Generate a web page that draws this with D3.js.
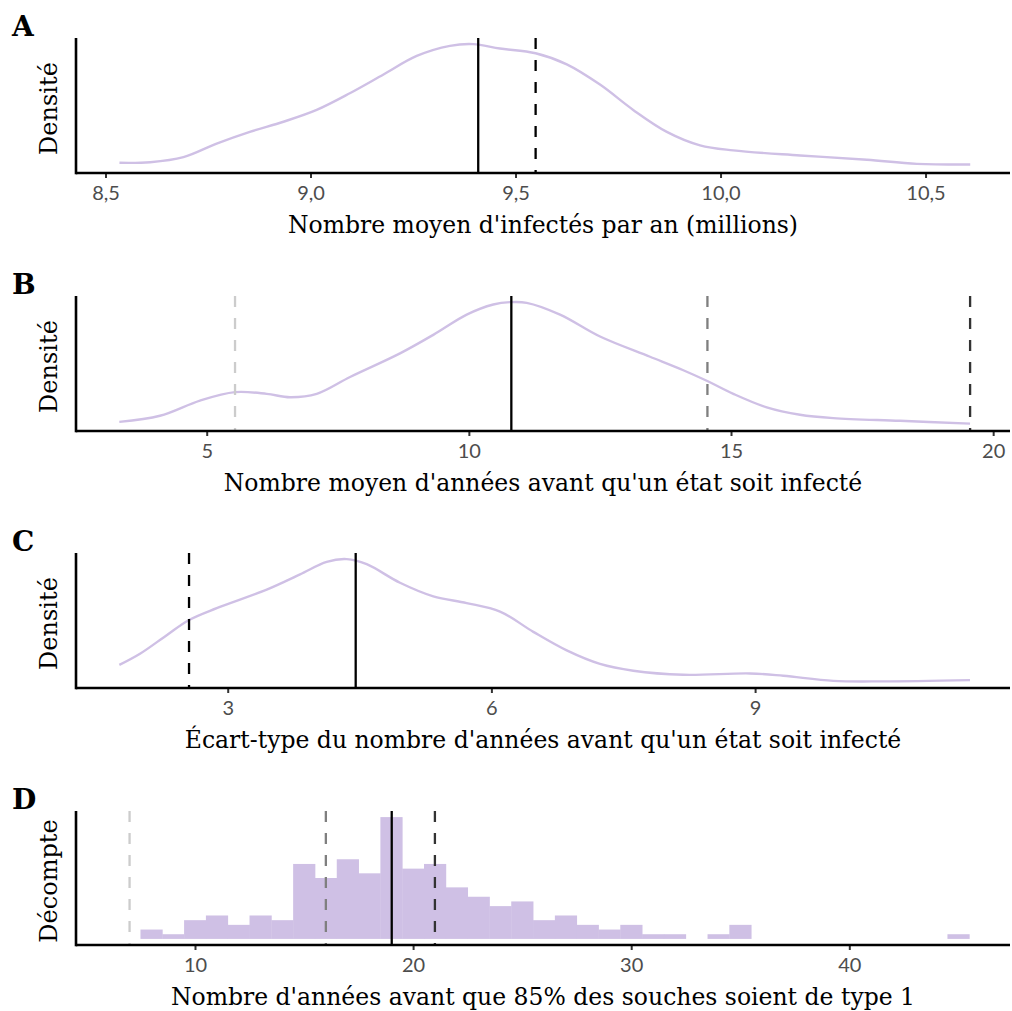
<!DOCTYPE html>
<html><head><meta charset="utf-8">
<script src="https://cdn.jsdelivr.net/npm/d3@7"></script>
<style>body{margin:0;background:#fff}</style>
</head><body>
<svg id="chart" width="1012" height="1011"></svg>
<script>
// ---- Panel A : density of mean number of infected per year (millions)
const aX = [8.534,8.609,8.690,8.771,8.852,8.934,9.015,9.097,9.178,9.259,9.340,9.397,9.462,9.549,9.625,9.706,9.787,9.869,9.950,10.031,10.194,10.357,10.479,10.609];
const aD = [0.040,0.046,0.096,0.230,0.346,0.446,0.563,0.730,0.913,1.096,1.196,1.213,1.170,1.123,1.013,0.813,0.563,0.346,0.213,0.163,0.113,0.070,0.030,0.023];
const aLines = [9.409, 9.549];
const aLineStyles = ["solid","dashed"];
const aLineColors = ["#000000","#000000"];
const aTicks = [8.5, 9.0, 9.5, 10.0, 10.5];

// ---- Panel B
const bX = [3.333,4.109,4.872,5.540,6.144,6.589,7.098,7.734,8.687,9.322,9.959,10.466,10.785,11.103,11.739,12.502,13.455,14.090,14.548,15.044,15.681,16.316,16.951,18.223,19.559];
const bD = [0.0036,0.0108,0.0288,0.0388,0.0368,0.0328,0.0368,0.0568,0.0848,0.1068,0.1308,0.1428,0.1456,0.1448,0.1308,0.1048,0.0808,0.0648,0.0520,0.0368,0.0208,0.0120,0.0080,0.0048,0.0015];
const bLines = [5.54, 10.81, 14.55, 19.56];
const bLineStyles = ["dashed","solid","dashed","dashed"];
const bLineColors = ["#cccccc","#000000","#7f7f7f","#333333"];
const bTicks = [5, 10, 15, 20];

// ---- Panel C
const cX = [1.767,2.002,2.306,2.560,2.875,3.444,3.823,4.126,4.354,4.581,4.960,5.339,5.719,6.098,6.477,6.857,7.235,7.614,8.183,8.942,9.321,9.890,10.459,11.445];
const cD = [0.0334,0.0554,0.092,0.122,0.1454,0.182,0.212,0.2366,0.242,0.232,0.1954,0.1686,0.1554,0.1386,0.0986,0.062,0.0354,0.022,0.014,0.0166,0.012,0.002,0.001,0.0034];
const cLines = [2.56, 4.456];
const cLineStyles = ["dashed","solid"];
const cLineColors = ["#000000","#000000"];
const cTicks = [3, 6, 9];

// ---- Panel D : histogram, bins of width 1 centred on integers
const dBins = [8,9,10,11,12,13,14,15,16,17,18,19,20,21,22,23,24,25,26,27,28,29,30,31,32,33,34,35,36,37,38,39,40,41,42,43,44,45];
const dCounts = [2,1,4,5,3,5,4,16,13,17,14,26,15,16,11,9,7,8,4,5,3,2,3,1,1,0,1,3,0,0,0,0,0,0,0,0,0,1];
const dLines = [7.0, 16.0, 19.02, 21.0];
const dLineStyles = ["dashed","dashed","solid","dashed"];
const dLineColors = ["#cccccc","#7f7f7f","#000000","#333333"];
const dTicks = [10, 20, 30, 40];

const labels = ["A","B","C","D"];
const xTitles = [
  "Nombre moyen d'infectés par an (millions)",
  "Nombre moyen d'années avant qu'un état soit infecté",
  "Écart-type du nombre d'années avant qu'un état soit infecté",
  "Nombre d'années avant que 85% des souches soient de type 1"
];
const yTitles = ["Densité","Densité","Densité","Décompte"];

const PURPLE = "#cfc0e5";
const svg = d3.select("#chart");
const L = 76, R = 1010;
const panels = [
  {top:38,  bottom:173, dom:[8.428,10.706], type:"density", x:aX, d:aD, lines:aLines, styles:aLineStyles, colors:aLineColors, ticks:aTicks, fmt: v => d3.format(".1f")(v).replace(".", ",")},
  {top:296, bottom:431, dom:[2.507,20.321], type:"density", x:bX, d:bD, lines:bLines, styles:bLineStyles, colors:bLineColors, ticks:bTicks, fmt: d3.format("d")},
  {top:553, bottom:688, dom:[1.274,11.900], type:"density", x:cX, d:cD, lines:cLines, styles:cLineStyles, colors:cLineColors, ticks:cTicks, fmt: d3.format("d")},
  {top:811, bottom:945, dom:[4.544,47.368], type:"hist", x:dBins, d:dCounts, lines:dLines, styles:dLineStyles, colors:dLineColors, ticks:dTicks, fmt: d3.format("d")}
];

panels.forEach((p, i) => {
  const g = svg.append("g");
  const x = d3.scaleLinear().domain(p.dom).range([L, R]);
  const maxV = d3.max(p.d);
  const pad = maxV * 0.05;
  const y = d3.scaleLinear().domain([-pad, maxV + pad]).range([p.bottom, p.top]);

  if (p.type === "density") {
    const line = d3.line().x((v, k) => x(p.x[k])).y((v) => y(v)).curve(d3.curveCatmullRom.alpha(0.5));
    g.append("path").attr("d", line(p.d)).attr("fill", "none")
      .attr("stroke", PURPLE).attr("stroke-width", 2.4).attr("stroke-linejoin", "round");
  } else {
    g.selectAll("rect.bar").data(p.d).join("rect").attr("class","bar")
      .attr("x", (c, k) => x(p.x[k] - 0.5))
      .attr("width", (c, k) => x(p.x[k] + 0.5) - x(p.x[k] - 0.5) + 0.4)
      .attr("y", c => y(c))
      .attr("height", c => y(0) - y(c))
      .attr("fill", PURPLE);
  }

  // reference lines
  p.lines.forEach((v, k) => {
    g.append("line").attr("x1", x(v)).attr("x2", x(v))
      .attr("y1", p.top).attr("y2", p.bottom)
      .attr("stroke", p.colors[k]).attr("stroke-width", 2.3)
      .attr("stroke-dasharray", p.styles[k] === "dashed" ? "11,11" : null);
  });

  // x axis
  const ax = d3.axisBottom(x).tickValues(p.ticks).tickFormat(p.fmt).tickSize(5).tickPadding(8);
  const axg = g.append("g").attr("transform", `translate(0,${p.bottom})`).call(ax);
  axg.select(".domain").remove();
  axg.selectAll(".tick line").attr("stroke", "#333333").attr("stroke-width", 2);
  axg.selectAll(".tick text").attr("fill", "#4d4d4d")
    .style("font-family", "Lato, 'Open Sans', sans-serif").style("font-size", "20px")
    .attr("dy", "0.71em");

  // axis lines
  g.append("line").attr("x1", L).attr("x2", R).attr("y1", p.bottom).attr("y2", p.bottom)
    .attr("stroke", "#000").attr("stroke-width", 2.6);
  g.append("line").attr("x1", L).attr("x2", L).attr("y1", p.top).attr("y2", p.bottom + 1.3)
    .attr("stroke", "#000").attr("stroke-width", 2.6);

  // titles
  g.append("text").attr("x", (L + R) / 2).attr("y", p.bottom + 60)
    .attr("text-anchor", "middle")
    .style("font-family", "'DejaVu Serif', serif").style("font-size", "23.5px").attr("fill", "#000")
    .text(xTitles[i]);
  g.append("text").attr("transform", `translate(57,${(p.top + p.bottom) / 2 + 3}) rotate(-90)`)
    .attr("text-anchor", "middle")
    .style("font-family", "'DejaVu Serif', serif").style("font-size", "24px").attr("fill", "#000")
    .text(yTitles[i]);
  g.append("text").attr("x", 12).attr("y", p.top - 2)
    .style("font-family", "'DejaVu Serif', serif").style("font-size", "28px").style("font-weight", "bold")
    .attr("fill", "#000").text(labels[i]);
});
</script>
</body></html>
